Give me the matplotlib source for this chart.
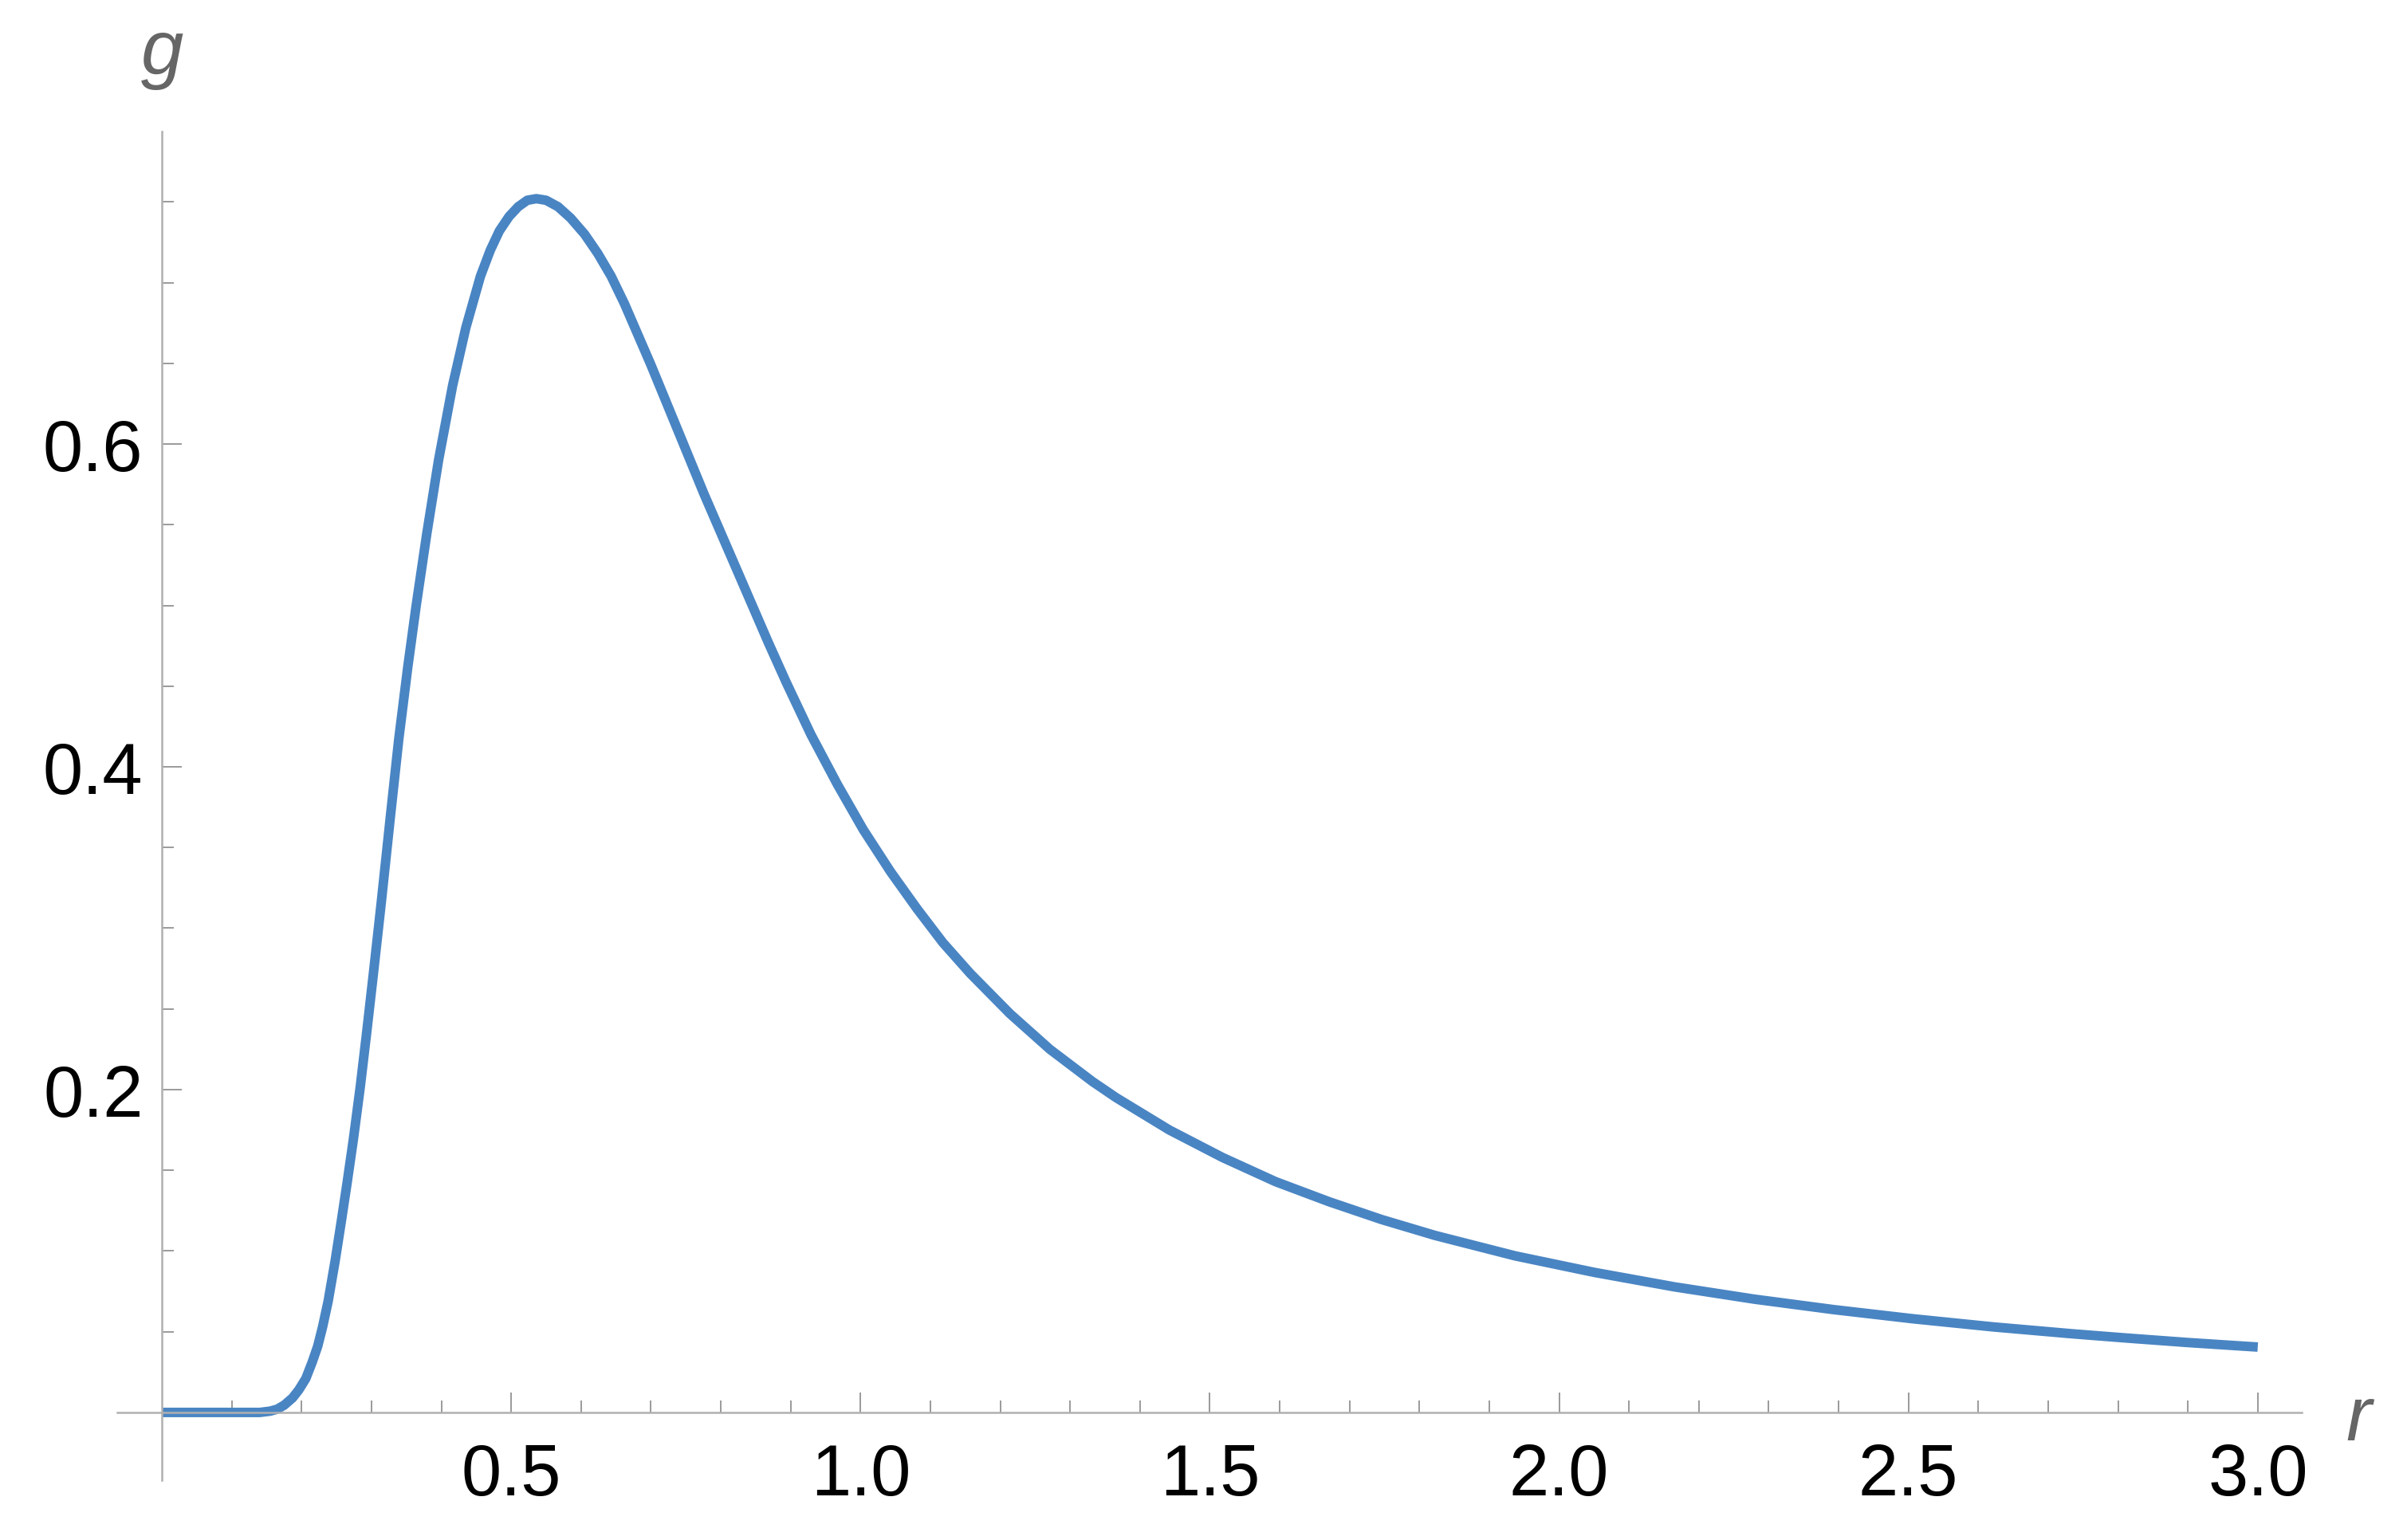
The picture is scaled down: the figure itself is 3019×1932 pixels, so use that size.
import numpy as np
import matplotlib
matplotlib.use("Agg")
import matplotlib.pyplot as plt
from matplotlib.ticker import FixedLocator, FixedFormatter

# ---- data ----
r_vals = [0.000, 0.050, 0.100, 0.140, 0.155, 0.165, 0.175, 0.187, 0.196, 0.206,
          0.215, 0.223, 0.230, 0.238, 0.248, 0.257, 0.265, 0.274, 0.284, 0.293,
          0.303, 0.314, 0.327, 0.339, 0.352, 0.364, 0.379, 0.396, 0.416, 0.435,
          0.456, 0.470, 0.483, 0.497, 0.510, 0.523, 0.536, 0.550, 0.567, 0.585,
          0.605, 0.624, 0.643, 0.662, 0.681, 0.700, 0.719, 0.738, 0.757, 0.776,
          0.795, 0.814, 0.833, 0.850, 0.868, 0.894, 0.929, 0.967, 1.004, 1.043,
          1.081, 1.118, 1.157, 1.214, 1.271, 1.332, 1.366, 1.442, 1.518, 1.594,
          1.671, 1.746, 1.822, 1.937, 2.050, 2.165, 2.279, 2.393, 2.507, 2.621,
          2.735, 2.812, 2.900, 3.000]
g_vals = [0.000, 0.000, 0.000, 0.000, 0.0008, 0.002, 0.0045, 0.009, 0.014, 0.021,
          0.031, 0.041, 0.053, 0.069, 0.094, 0.119, 0.142, 0.169, 0.202, 0.235,
          0.273, 0.316, 0.369, 0.417, 0.462, 0.500, 0.544, 0.590, 0.636, 0.672,
          0.704, 0.720, 0.732, 0.741, 0.747, 0.751, 0.752, 0.751, 0.747, 0.740,
          0.730, 0.718, 0.704, 0.687, 0.668, 0.649, 0.629, 0.609, 0.589, 0.569,
          0.550, 0.531, 0.512, 0.495, 0.477, 0.452, 0.420, 0.389, 0.361, 0.335,
          0.312, 0.291, 0.272, 0.247, 0.225, 0.205, 0.195, 0.175, 0.158, 0.143,
          0.1305, 0.1195, 0.1097, 0.0970, 0.0868, 0.0778, 0.0702, 0.0637, 0.0580, 0.0530,
          0.0487, 0.0461, 0.0433, 0.0405]

x_major = [0.5, 1.0, 1.5, 2.0, 2.5, 3.0]
x_major_labels = ["0.5", "1.0", "1.5", "2.0", "2.5", "3.0"]
x_minor = [0.1, 0.2, 0.3, 0.4, 0.6, 0.7, 0.8, 0.9, 1.1, 1.2, 1.3, 1.4, 1.6, 1.7,
           1.8, 1.9, 2.1, 2.2, 2.3, 2.4, 2.6, 2.7, 2.8, 2.9]
y_major = [0.2, 0.4, 0.6]
y_major_labels = ["0.2", "0.4", "0.6"]
y_minor = [0.05, 0.10, 0.15, 0.25, 0.30, 0.35, 0.45, 0.50, 0.55, 0.65, 0.70, 0.75]

# ---- figure ----
W, H = 3019, 1933
DPI = 100
fig = plt.figure(figsize=(W / DPI, H / DPI), dpi=DPI)
fig.patch.set_facecolor("white")

left_px, right_px, top_px, bottom_px = 147, 2887, 166, 1858
ax = fig.add_axes([left_px / W, 1 - bottom_px / H,
                   (right_px - left_px) / W, (bottom_px - top_px) / H])
ax.set_xlim(-0.064, 3.063)
ax.set_ylim(-0.042, 0.7936)

line_color = "#4a85c3"
ax.plot(r_vals, g_vals, color=line_color, lw=8.6,
        solid_joinstyle="round", solid_capstyle="butt")

axis_color = "#b0b0b0"
tick_color = "#9a9a9a"
for s in ["top", "right"]:
    ax.spines[s].set_visible(False)
ax.spines["left"].set_position(("data", 0))
ax.spines["bottom"].set_position(("data", 0))
for s in ["left", "bottom"]:
    ax.spines[s].set_color(axis_color)
    ax.spines[s].set_linewidth(1.8)

tick_family = ["Liberation Sans", "DejaVu Sans"]
tick_size = 65

ax.xaxis.set_major_locator(FixedLocator(x_major))
ax.xaxis.set_major_formatter(FixedFormatter(x_major_labels))
ax.xaxis.set_minor_locator(FixedLocator(x_minor))
ax.yaxis.set_major_locator(FixedLocator(y_major))
ax.yaxis.set_major_formatter(FixedFormatter(y_major_labels))
ax.yaxis.set_minor_locator(FixedLocator(y_minor))

ax.tick_params(axis="both", which="major", direction="in", length=18,
               width=1.4, color=tick_color, labelcolor="black")
ax.tick_params(axis="both", which="minor", direction="in", length=10.8,
               width=1.4, color=tick_color)
ax.tick_params(axis="x", which="major", pad=27)
ax.tick_params(axis="y", which="major", pad=17)
for lab in ax.get_xticklabels() + ax.get_yticklabels():
    lab.set_fontfamily(tick_family)
    lab.set_fontsize(tick_size)

label_font = dict(family=["Liberation Sans", "DejaVu Sans"], style="italic",
                  size=69, color="#666666")
ax.annotate("g", xy=(0, 1), xycoords=("data", "axes fraction"),
            xytext=(0, 52.5), textcoords="offset points",
            ha="center", va="baseline", annotation_clip=False, **label_font)
ax.annotate("r", xy=(1, 0), xycoords=("axes fraction", "data"),
            xytext=(40, -24.5), textcoords="offset points",
            ha="left", va="baseline", annotation_clip=False, **label_font)

fig.savefig("out.png", dpi=DPI, facecolor="white")
